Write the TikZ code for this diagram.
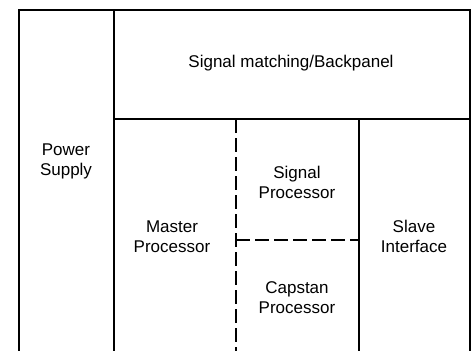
\documentclass[tikz,border=0pt]{standalone}
\usepackage{fontspec}
\setmainfont{Liberation Sans}
\begin{document}
\begin{tikzpicture}[x=1pt,y=-1pt,
  frame/.style={line width=1.3pt,black},
  part/.style={line width=1.1pt,black},
  dash line/.style={line width=1.1pt,black,dash pattern=on 14pt off 5pt},
  label/.style={font=\fontsize{17}{20}\selectfont,align=center,inner sep=0pt}]
\useasboundingbox (0,0) rectangle (475,351);
% corners
\coordinate (tl) at (19,10);
\coordinate (tr) at (470,10);
\coordinate (bl) at (19,351);
\coordinate (br) at (470,351);
\coordinate (psT) at (114,10);
\coordinate (psB) at (114,351);
\coordinate (bpL) at (114,119);
\coordinate (bpR) at (470,119);
\coordinate (slT) at (359,119);
\coordinate (slB) at (359,351);
\coordinate (dvT) at (236,119);
\coordinate (dvB) at (236,351);
\coordinate (dhL) at (236,240);
\coordinate (dhR) at (359,240);
% outline
\draw[frame] (bl) -- (tl) -- (tr) -- (br);
\draw[part] (psT) -- (psB);
\draw[part] (bpL) -- (bpR);
\draw[part] (slT) -- (slB);
\draw[dash line] (dvT) -- (dvB);
\draw[dash line] (dhL) -- (dhR);
% labels
\node[label] (bp) at (291,63) {Signal matching/Backpanel};
\node[label] (ps) at (66,161) {Power\\Supply};
\node[label] (mp) at (172,237) {Master\\Processor};
\node[label] (sp) at (297,182) {Signal\\Processor};
\node[label] (cp) at (297,298) {Capstan\\Processor};
\node[label] (si) at (414,236) {Slave\\Interface};
\end{tikzpicture}
\end{document}
